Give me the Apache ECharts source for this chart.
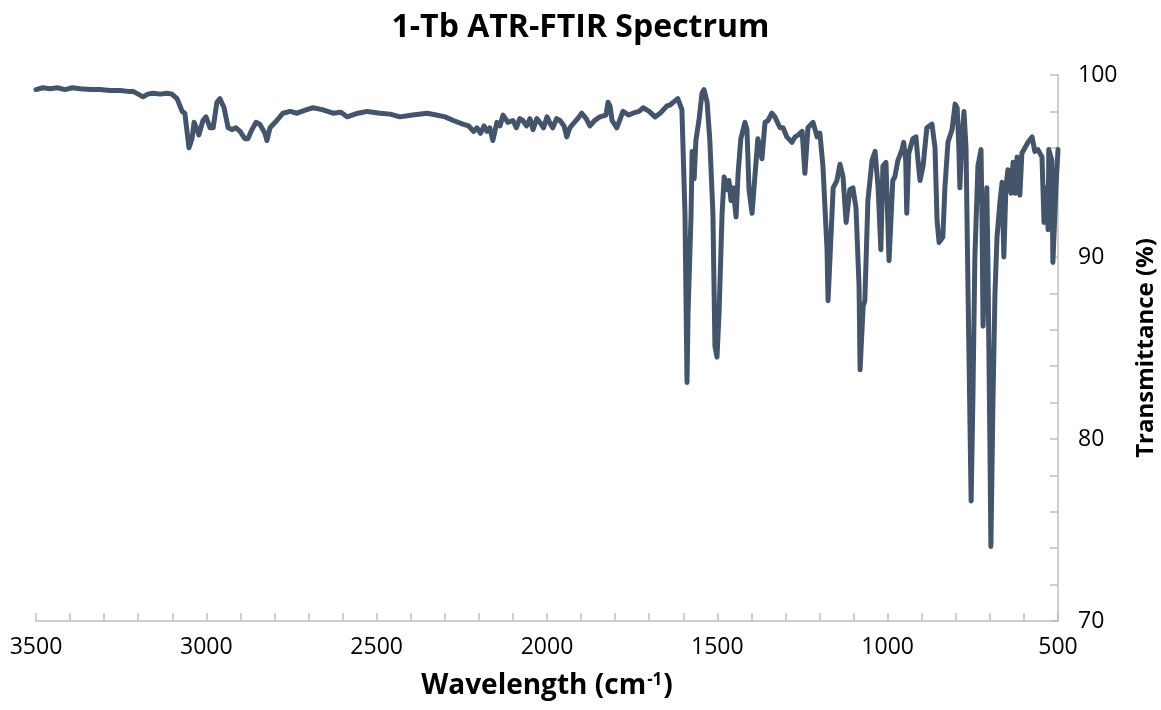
<!DOCTYPE html>
<html>
<head>
<meta charset="utf-8">
<script src="https://cdn.jsdelivr.net/npm/echarts@6/dist/echarts.min.js"></script>
<style>
html,body{margin:0;padding:0;background:#fff;}
#chart{width:1161px;height:710px;}
</style>
</head>
<body>
<div id="chart"></div>
<script>
var chartTitle = '1-Tb ATR-FTIR Spectrum';
var xTickLabels = ['3500','3000','2500','2000','1500','1000','500'];
var yTickLabels = ['70','80','90','100'];

var wavenumbers = [
3500,3480,3459,3437,3415,3393,3371,3340,3312,3283,3253,3230,3215,3200,3186,3172,3157,3135,3115,3101,3086,3071,3063,3051,3042,3036,3027,3022,3010,3001,2989,2980,2969,2960,2948,2936,2925,2913,2901,2887,2878,2866,2854,2843,2828,2822,2813,2793,2775,2754,2734,2705,2687,2660,2628,2605,2587,2555,2528,2490,2460,2432,2395,2352,2325,2299,2275,2247,2230,2215,2206,2195,2185,2176,2168,2159,2147,2138,2129,2115,2100,2090,2080,2071,2060,2050,2041,2030,2021,2010,2000,1990,1983,1972,1962,1950,1942,1933,1924,1910,1898,1885,1874,1860,1845,1827,1821,1815,1809,1795,1777,1760,1748,1730,1718,1700,1683,1668,1648,1639,1616,1604,1595,1589,1586,1577,1574,1568,1563,1554,1545,1539,1530,1522,1513,1507,1501,1495,1486,1480,1472,1466,1460,1454,1445,1439,1431,1419,1413,1407,1398,1389,1381,1369,1360,1351,1340,1331,1316,1307,1296,1281,1272,1263,1251,1243,1234,1219,1207,1199,1190,1178,1175,1166,1160,1149,1140,1131,1122,1111,1102,1093,1084,1081,1072,1067,1058,1046,1037,1028,1020,1014,1005,996,985,979,970,958,953,947,944,938,926,917,911,905,896,885,870,861,855,849,838,832,823,811,802,796,791,788,782,776,770,764,755,750,744,735,726,723,720,714,709,706,700,697,691,685,679,670,664,659,653,647,638,632,626,620,612,606,597,588,576,568,559,547,541,535,529,527,518,515,506,500
];
var transmittance = [
99.2,99.3,99.25,99.3,99.2,99.3,99.25,99.2,99.2,99.15,99.15,99.1,99.1,98.95,98.8,98.95,99.0,98.95,99.0,98.95,98.7,98.0,97.9,96.0,96.5,97.4,97.0,96.7,97.5,97.7,97.1,97.1,98.5,98.7,98.2,97.1,97.0,97.1,96.9,96.5,96.5,97.0,97.4,97.3,96.8,96.4,97.1,97.5,97.9,98.0,97.9,98.1,98.2,98.1,97.9,97.95,97.7,97.9,98.0,97.9,97.85,97.7,97.8,97.9,97.8,97.7,97.5,97.3,97.2,96.9,97.1,96.8,97.2,96.9,97.1,96.4,97.4,97.2,97.8,97.4,97.5,97.1,97.6,97.5,97.2,97.6,97.0,97.6,97.4,97.1,97.7,97.3,97.1,97.6,97.5,97.2,96.6,97.1,97.3,97.6,97.9,97.6,97.2,97.5,97.7,97.8,98.5,98.3,97.5,97.1,98.0,97.8,97.9,98.0,98.2,98.0,97.7,97.9,98.3,98.35,98.7,98.1,92.4,83.1,86.9,92.4,95.8,94.3,96.4,97.5,99.0,99.2,98.5,96.4,92.4,85.1,84.5,86.9,92.4,94.4,93.7,94.2,93.1,93.8,92.2,94.6,96.5,97.4,97.0,93.7,92.4,94.6,96.5,95.4,97.4,97.5,97.9,97.7,97.1,97.1,96.6,96.3,96.6,96.7,96.9,94.6,97.1,97.4,96.6,96.8,95.0,90.4,87.6,91.3,93.8,94.2,95.1,94.4,91.9,93.7,93.8,92.7,88.4,83.8,87.3,87.6,93.1,95.3,95.8,93.8,90.4,95.0,95.2,89.8,94.2,94.4,95.3,95.9,96.3,95.3,92.4,95.7,96.5,96.6,95.3,94.2,95.0,97.1,97.3,96.0,92.0,90.8,91.1,93.8,96.3,97.0,98.4,98.2,96.0,93.8,96.5,98.0,96.0,88.0,76.6,82.0,90.0,95.0,95.9,92.0,86.2,90.2,93.8,90.2,80.0,74.1,82.0,88.0,91.1,93.1,94.1,90.0,93.8,94.8,93.5,95.2,93.5,95.5,93.4,95.7,96.0,96.3,96.6,95.8,95.9,95.5,91.9,93.8,91.5,95.9,95.3,89.7,93.8,95.9
];

var seriesData = wavenumbers.map(function(w, i){ return [w, transmittance[i]]; });

var chart = echarts.init(document.getElementById('chart'), null, {renderer:'canvas'});
var axisGray = '#bfbfbf';
var fontFam = '"Open Sans", "Liberation Sans", sans-serif';
chart.setOption({
  animation: false,
  backgroundColor: '#ffffff',
  title: {
    text: chartTitle,
    left: 'center',
    top: 7,
    textStyle: {fontFamily: fontFam, fontWeight: 'bold', fontSize: 32, color: '#000'}
  },
  grid: {left: 36, right: 103, top: 75, bottom: 89, containLabel: false, outerBoundsMode: 'none'},
  xAxis: {
    type: 'value',
    inverse: true,
    min: 500, max: 3500, interval: 500,
    name: '{a|Wavelength (cm}{s|-1}{a|)}',
    nameLocation: 'middle',
    nameGap: 51,
    nameTextStyle: {
      rich: {
        a: {fontFamily: fontFam, fontWeight: 'bold', fontSize: 28, color: '#000'},
        s: {fontFamily: fontFam, fontWeight: 'bold', fontSize: 17, color: '#000', verticalAlign: 'top', padding:[0,1,12,1]}
      }
    },
    axisLine: {show: true, lineStyle: {color: axisGray, width: 1.5}},
    axisTick: {show: true, inside: true, length: 8, lineStyle: {color: axisGray, width: 1.5}},
    minorTick: {show: true, splitNumber: 5, length: 8, lineStyle: {color: axisGray, width: 1.5}},
    splitLine: {show: false},
    axisLabel: {
      fontFamily: fontFam, fontSize: 23, color: '#000', margin: 15,
      formatter: function(v){ var s = String(v); return xTickLabels.indexOf(s) >= 0 ? s : ''; }
    }
  },
  yAxis: {
    type: 'value',
    position: 'right',
    min: 70, max: 100, interval: 10,
    name: 'Transmittance (%)',
    nameLocation: 'middle',
    nameRotate: 90,
    nameGap: 76,
    nameTextStyle: {fontFamily: fontFam, fontWeight: 'bold', fontSize: 24, color: '#000'},
    axisLine: {show: true, lineStyle: {color: axisGray, width: 1.5}},
    axisTick: {show: true, inside: true, length: 8, lineStyle: {color: axisGray, width: 1.5}},
    minorTick: {show: true, splitNumber: 5, length: 8, lineStyle: {color: axisGray, width: 1.5}},
    splitLine: {show: false},
    axisLabel: {
      fontFamily: fontFam, fontSize: 23, color: '#000', margin: 20,
      formatter: function(v){ var s = String(v); return yTickLabels.indexOf(s) >= 0 ? s : ''; }
    }
  },
  series: [{
    type: 'line',
    data: seriesData,
    showSymbol: false,
    smooth: false,
    clip: true,
    lineStyle: {color: '#44546a', width: 5, cap: 'round', join: 'round'},
    itemStyle: {color: '#44546a'}
  }]
});
</script>
</body>
</html>
